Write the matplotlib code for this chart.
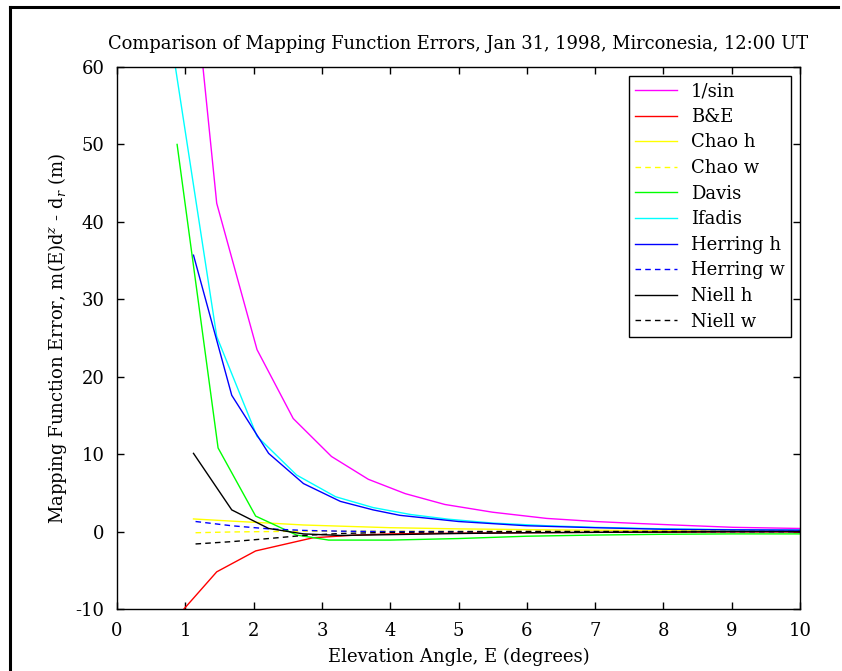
"""Mapping function error comparison, MATLAB-style line chart."""
import matplotlib
matplotlib.use("Agg")
import matplotlib.pyplot as plt
from matplotlib.lines import Line2D

plt.rcParams['font.family'] = ['DejaVu Serif']
plt.rcParams['mathtext.fontset'] = 'dejavuserif'
plt.rcParams['axes.unicode_minus'] = False

# elevation angles (deg) and errors (m)
sin_x = [0.88, 1.46, 2.05, 2.58, 3.14, 3.68, 4.22, 4.80, 5.50, 6.29, 7.00, 7.56, 8.30, 9.02, 10.0]
sin_y = [93.0, 42.4, 23.5, 14.6, 9.7, 6.75, 4.9, 3.5, 2.5, 1.7, 1.3, 1.07, 0.8, 0.55, 0.4]

be_x = [0.88, 1.46, 2.03, 2.87, 3.5, 4.0, 5.0, 6.0, 7.0, 8.0, 9.0, 10.0]
be_y = [-11.0, -5.2, -2.5, -0.8, -0.45, -0.3, -0.2, -0.15, -0.1, -0.1, -0.05, -0.05]

chao_h_x = [1.12, 1.68, 2.22, 2.73, 3.27, 4.0, 5.0, 6.0, 7.0, 8.0, 9.0, 10.0]
chao_h_y = [1.63, 1.35, 1.1, 0.85, 0.7, 0.5, 0.35, 0.25, 0.18, 0.12, 0.1, 0.08]

chao_w_x = [1.15, 1.68, 2.22, 2.73, 3.27, 4.0, 5.0, 6.0, 7.0, 8.0, 9.0, 10.0]
chao_w_y = [-0.15, -0.05, 0.0, 0.05, 0.05, 0.05, 0.05, 0.05, 0.05, 0.05, 0.05, 0.05]

davis_x = [0.88, 1.48, 2.03, 2.63, 3.10, 4.0, 5.0, 6.0, 7.0, 8.0, 9.0, 10.0]
davis_y = [50.0, 10.8, 2.0, -0.45, -1.1, -1.1, -0.9, -0.6, -0.45, -0.35, -0.3, -0.3]

ifadis_x = [0.82, 1.46, 2.05, 2.63, 3.20, 3.75, 4.30, 4.85, 5.5, 6.3, 7.0, 8.0, 9.0, 10.0]
ifadis_y = [62.0, 25.2, 12.3, 7.3, 4.5, 3.1, 2.2, 1.6, 1.1, 0.75, 0.55, 0.35, 0.25, 0.2]

herring_h_x = [1.12, 1.68, 2.22, 2.73, 3.27, 3.75, 4.14, 5.0, 6.0, 7.0, 8.0, 9.0, 10.0]
herring_h_y = [35.7, 17.6, 10.1, 6.2, 3.9, 2.8, 2.1, 1.3, 0.75, 0.5, 0.3, 0.22, 0.18]

herring_w_x = [1.15, 1.68, 2.22, 2.73, 3.27, 4.0, 5.0, 6.0, 7.0, 8.0, 9.0, 10.0]
herring_w_y = [1.3, 0.75, 0.35, 0.15, 0.05, 0.0, 0.0, 0.0, 0.0, 0.0, 0.0, 0.0]

niell_h_x = [1.12, 1.68, 2.22, 2.73, 3.27, 4.0, 5.0, 6.0, 7.0, 8.0, 9.0, 10.0]
niell_h_y = [10.1, 2.8, 0.4, -0.3, -0.5, -0.4, -0.25, -0.15, -0.1, -0.05, 0.0, 0.0]

niell_w_x = [1.15, 1.68, 2.22, 2.73, 3.27, 4.0, 5.0, 6.0, 7.0, 8.0, 9.0, 10.0]
niell_w_y = [-1.6, -1.3, -0.9, -0.5, -0.25, -0.1, -0.05, 0.0, 0.0, 0.0, 0.0, 0.0]

series = [
    ("1/sin", sin_x, sin_y, '#ff00ff', '-'),
    ("B&E", be_x, be_y, '#ff0000', '-'),
    ("Chao h", chao_h_x, chao_h_y, '#ffff00', '-'),
    ("Chao w", chao_w_x, chao_w_y, '#ffff00', '--'),
    ("Davis", davis_x, davis_y, '#00ff00', '-'),
    ("Ifadis", ifadis_x, ifadis_y, '#00ffff', '-'),
    ("Herring h", herring_h_x, herring_h_y, '#0000ff', '-'),
    ("Herring w", herring_w_x, herring_w_y, '#0000ff', '--'),
    ("Niell h", niell_h_x, niell_h_y, '#000000', '-'),
    ("Niell w", niell_w_x, niell_w_y, '#000000', '--'),
]

W, H = 842, 671
fig = plt.figure(figsize=(W / 100, H / 100), dpi=100)
ax = fig.add_axes([117 / W, 62 / H, 683 / W, 542 / H])

for label, xs, ys, color, ls in series:
    ax.plot(xs, ys, color=color, linestyle=ls, linewidth=1.0,
            dashes=(4, 3) if ls == '--' else (None, None), label=label)

ax.set_xlim(0, 10)
ax.set_ylim(-10, 60)
ax.set_xticks(range(0, 11))
ax.set_yticks(range(-10, 61, 10))
ax.tick_params(direction='in', top=True, right=True, labelsize=13,
               length=5, width=1.0, pad=9)
for sp in ax.spines.values():
    sp.set_linewidth(1.0)

ax.set_title("Comparison of Mapping Function Errors, Jan 31, 1998, Mirconesia, 12:00 UT",
             fontsize=12.9, pad=13)
ax.set_xlabel("Elevation Angle, E (degrees)", fontsize=13, labelpad=6)
ax.set_ylabel(r"Mapping Function Error, m(E)d$^{z}$ - d$_{r}$ (m)",
              fontsize=13, labelpad=5)

# legend box: right edge at 791 px, top at 76 px
leg = ax.legend(loc='upper right',
                bbox_to_anchor=((791 - 117) / 683, (609 - 76) / 542),
                borderaxespad=0, fontsize=13,
                frameon=True, fancybox=False, edgecolor='black', framealpha=1,
                handlelength=2.35, labelspacing=0.42, borderpad=0.35,
                handletextpad=0.75)
leg.get_frame().set_linewidth(1.0)

# page frame around the figure
fig.add_artist(Line2D([10 / W, 838 / W], [1 - 7 / H, 1 - 7 / H],
                      transform=fig.transFigure, color='black', linewidth=2.2))
fig.add_artist(Line2D([10 / W, 10 / W], [0, 1 - 7 / H],
                      transform=fig.transFigure, color='black', linewidth=2.2))

fig.savefig("out.png", dpi=100)
